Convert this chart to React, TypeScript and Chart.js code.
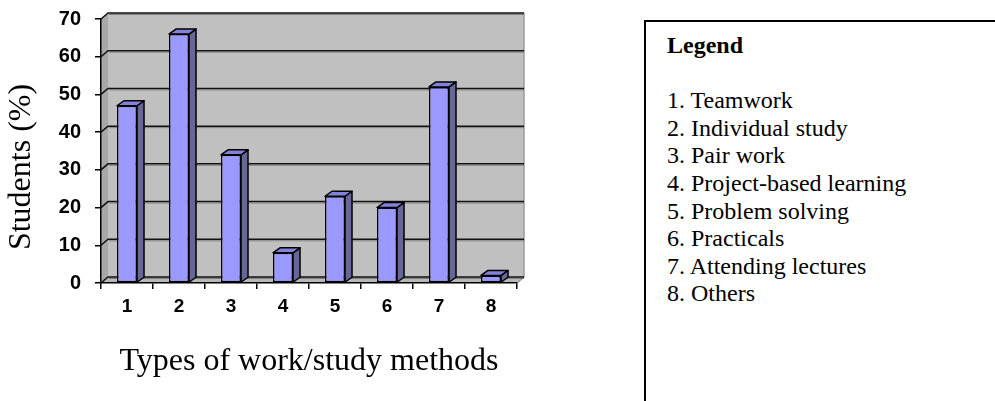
import React, { useEffect, useRef } from 'react';
import { Chart, registerables } from 'chart.js';

Chart.register(...registerables);

const categories = ['1', '2', '3', '4', '5', '6', '7', '8'];
const values = [47, 66, 34, 8, 23, 20, 52, 2];
const yMin = 0;
const yMax = 70;
const yStep = 10;
const xTitle = 'Types of work/study methods';
const yTitle = 'Students (%)';
const legendTitle = 'Legend';
const legendItems = [
  'Teamwork',
  'Individual study',
  'Pair work',
  'Project-based learning',
  'Problem solving',
  'Practicals',
  'Attending lectures',
  'Others',
];

const WDX = 7;
const WDY = -6;
const BDX = 7;
const BDY = -5;

function poly(ctx: CanvasRenderingContext2D, pts: number[][], fill: string | null, stroke: string | null, lw = 1.5) {
  ctx.beginPath();
  ctx.moveTo(pts[0][0], pts[0][1]);
  for (let i = 1; i < pts.length; i++) ctx.lineTo(pts[i][0], pts[i][1]);
  ctx.closePath();
  if (fill) {
    ctx.fillStyle = fill;
    ctx.fill();
  }
  if (stroke) {
    ctx.strokeStyle = stroke;
    ctx.lineWidth = lw;
    ctx.lineJoin = 'round';
    ctx.stroke();
  }
}

const threeD = {
  id: 'threeD',
  beforeDraw(chart: any) {
    const { ctx, chartArea: a, scales } = chart;
    const ys = scales.y;
    ctx.save();
    // back wall
    ctx.fillStyle = '#C0C0C0';
    ctx.fillRect(a.left + WDX, a.top + WDY, a.right - a.left, a.bottom - a.top);
    // left wall
    poly(ctx, [[a.left, a.top], [a.left + WDX, a.top + WDY], [a.left + WDX, a.bottom + WDY], [a.left, a.bottom]], '#A8A8A8', null);
    // floor
    poly(ctx, [[a.left, a.bottom], [a.left + WDX, a.bottom + WDY], [a.right + WDX, a.bottom + WDY], [a.right, a.bottom]], '#B8B8B8', null);
    // right edge shade
    ctx.strokeStyle = '#9A9A9A';
    ctx.lineWidth = 1.5;
    ctx.beginPath();
    ctx.moveTo(a.right + WDX, a.top + WDY);
    ctx.lineTo(a.right + WDX, a.bottom + WDY);
    ctx.lineTo(a.right, a.bottom);
    ctx.stroke();
    // gridlines on walls
    ys.ticks.forEach((t: any) => {
      const py = ys.getPixelForValue(t.value);
      ctx.strokeStyle = '#111';
      ctx.lineWidth = 1.5;
      ctx.beginPath();
      ctx.moveTo(a.left, py);
      ctx.lineTo(a.left + WDX, py + WDY);
      ctx.lineTo(a.right + WDX, py + WDY);
      ctx.stroke();
      ctx.strokeStyle = 'rgba(90,90,90,0.6)';
      ctx.lineWidth = 1;
      ctx.beginPath();
      ctx.moveTo(a.left + WDX + 1, py + WDY + 1.5);
      ctx.lineTo(a.right + WDX, py + WDY + 1.5);
      ctx.stroke();
    });
    // y title
    ctx.save();
    ctx.translate(22, 167);
    ctx.rotate(-Math.PI / 2);
    ctx.font = '32px "Liberation Serif", "Times New Roman", serif';
    ctx.fillStyle = '#000';
    ctx.textAlign = 'center';
    ctx.textBaseline = 'middle';
    ctx.fillText(yTitle, 0, 0);
    ctx.restore();
    ctx.restore();
  },
  afterDatasetsDraw(chart: any) {
    const { ctx } = chart;
    const meta = chart.getDatasetMeta(0);
    ctx.save();
    meta.data.forEach((bar: any) => {
      const { x, y, base, width } = bar.getProps(['x', 'y', 'base', 'width'], true);
      const l = x - width / 2;
      const r = x + width / 2;
      poly(ctx, [[r, y], [r + BDX, y + BDY], [r + BDX, base + BDY], [r, base]], '#666699', '#000');
      poly(ctx, [[l, y], [l + BDX, y + BDY], [r + BDX, y + BDY], [r, y]], '#8282DC', '#000');
    });
    ctx.restore();
  },
};

function ChartCanvas() {
  const ref = useRef<HTMLCanvasElement | null>(null);
  useEffect(() => {
    if (!ref.current) return;
    const chart = new Chart(ref.current, {
      type: 'bar',
      data: {
        labels: categories,
        datasets: [
          {
            data: values,
            backgroundColor: '#9999FF',
            borderColor: '#000',
            borderWidth: 1.5,
            borderSkipped: false,
            barPercentage: 0.385,
            categoryPercentage: 1,
          },
        ],
      },
      options: {
        animation: false,
        responsive: false,
        devicePixelRatio: 1,
        layout: { padding: { left: 0, top: 19, right: 83, bottom: 0 } },
        plugins: {
          legend: { display: false },
          tooltip: { enabled: false },
        },
        scales: {
          x: {
            offset: true,
            grid: {
              offset: true,
              display: true,
              drawOnChartArea: false,
              drawTicks: true,
              tickLength: 6,
              color: '#000',
              lineWidth: 1.5,
            },
            border: { display: true, color: '#000', width: 1.5 },
            ticks: {
              color: '#000',
              padding: 6,
              font: { family: '"Liberation Sans", Arial, sans-serif', size: 19, weight: 'bold' },
            },
            title: {
              display: true,
              text: xTitle,
              color: '#000',
              padding: { top: 0, bottom: 20 },
              font: { family: '"Liberation Serif", "Times New Roman", serif', size: 32, weight: 'normal' },
            },
            afterFit: (s: any) => {
              s.height = 118;
              s.paddingLeft = 0;
              s.paddingRight = 0;
            },
          },
          y: {
            min: yMin,
            max: yMax,
            ticks: {
              stepSize: yStep,
              color: '#000',
              padding: 14,
              font: { family: '"Liberation Sans", Arial, sans-serif', size: 20, weight: 'bold' },
            },
            grid: {
              display: true,
              drawOnChartArea: false,
              drawTicks: true,
              tickLength: 6,
              color: '#000',
              lineWidth: 1.5,
            },
            border: { display: true, color: '#000', width: 1.5 },
            afterFit: (s: any) => {
              s.width = 101;
              s.paddingTop = 0;
              s.paddingBottom = 0;
            },
          },
        },
      } as any,
      plugins: [threeD],
    });
    return () => chart.destroy();
  }, []);
  return <canvas ref={ref} width={600} height={401} style={{ position: 'absolute', left: 0, top: 0, width: 600, height: 401 }} />;
}

export default function App() {
  return (
    <div style={{ position: 'fixed', left: 0, top: 0, width: 995, height: 401, overflow: 'hidden', background: '#fff' }}>
      <ChartCanvas />
      <div
        style={{
          position: 'absolute',
          left: 644,
          top: 20,
          width: 420,
          height: 420,
          borderLeft: '2px solid #000',
          borderTop: '2px solid #000',
          boxSizing: 'border-box',
          paddingLeft: 21,
          paddingTop: 10,
          fontFamily: '"Liberation Serif", "Times New Roman", serif',
          fontSize: 24,
          lineHeight: '27.6px',
          color: '#000',
        }}
      >
        <div style={{ fontWeight: 'bold' }}>{legendTitle}</div>
        <div>&nbsp;</div>
        {legendItems.map((it, i) => (
          <div key={i}>{`${categories[i]}. ${it}`}</div>
        ))}
      </div>
    </div>
  );
}
